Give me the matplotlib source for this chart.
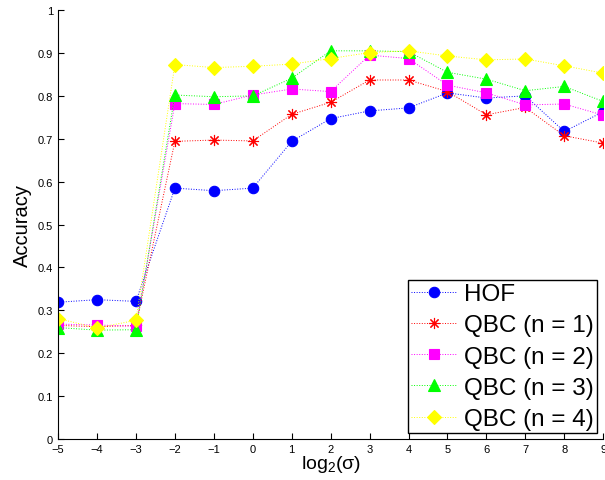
import numpy as np
import matplotlib
matplotlib.use("Agg")
import matplotlib.pyplot as plt

plt.rcParams.update({
    'font.family': ['Liberation Sans', 'DejaVu Sans'],
    'mathtext.fontset': 'custom',
    'mathtext.rm': 'Liberation Sans',
    'mathtext.it': 'Liberation Sans',
    'xtick.direction': 'in',
    'ytick.direction': 'in',
})

log2_sigma = [-5, -4, -3, -2, -1, 0, 1, 2, 3, 4, 5, 6, 7, 8, 9]

hof = [0.319, 0.325, 0.321, 0.585, 0.579, 0.585, 0.694, 0.747, 0.765, 0.772,
       0.807, 0.795, 0.800, 0.717, 0.763]
qbc1 = [0.265, 0.262, 0.265, 0.694, 0.697, 0.695, 0.757, 0.785, 0.837, 0.837,
        0.810, 0.756, 0.773, 0.707, 0.690]
qbc2 = [0.268, 0.266, 0.263, 0.782, 0.780, 0.802, 0.816, 0.810, 0.895, 0.887,
        0.825, 0.807, 0.779, 0.781, 0.755]
qbc3 = [0.260, 0.254, 0.255, 0.802, 0.798, 0.800, 0.841, 0.905, 0.905, 0.903,
        0.855, 0.839, 0.812, 0.822, 0.787]
qbc4 = [0.281, 0.259, 0.277, 0.873, 0.866, 0.869, 0.874, 0.887, 0.901, 0.905,
        0.893, 0.884, 0.886, 0.870, 0.853]

series = [
    ("HOF", hof, '#0000FF', 'o', 7.5),
    ("QBC (n = 1)", qbc1, '#FF0000', (8, 2, 0), 8),
    ("QBC (n = 2)", qbc2, '#FF00FF', 's', 7),
    ("QBC (n = 3)", qbc3, '#00FF00', '^', 8),
    ("QBC (n = 4)", qbc4, '#FFFF00', 'D', 7),
]

fig = plt.figure(figsize=(6.05, 4.81), dpi=100)
ax = fig.add_axes([0.096, 0.085, 0.901, 0.892])

for label, vals, color, marker, ms in series:
    ax.plot(log2_sigma, vals, linestyle=':', linewidth=0.7, color=color,
            marker=marker, markersize=ms, markerfacecolor=color,
            markeredgecolor=color, markeredgewidth=0.8, label=label)

ax.set_xlim(-5, 9)
ax.set_ylim(0, 1)
ax.set_xticks(range(-5, 10))
ax.set_xticklabels([str(v).replace('-', '\u2212') for v in range(-5, 10)])
ax.set_yticks(np.arange(0, 1.01, 0.1))
ax.set_yticklabels(['0'] + ['%.1f' % v for v in np.arange(0.1, 0.95, 0.1)] + ['1'])
ax.tick_params(labelsize=8, length=4, width=0.8)
ax.spines['top'].set_visible(False)
ax.spines['right'].set_visible(False)

ax.set_xlabel('log$_2$(\u03c3)', fontsize=14, labelpad=-1)
ax.set_ylabel('Accuracy', fontsize=14.5, labelpad=4)

leg = ax.legend(loc='lower right', fontsize=17.5, frameon=True, fancybox=False,
                edgecolor='black', framealpha=1, borderpad=0.12,
                handlelength=1.9, handletextpad=0.3, labelspacing=0.38,
                borderaxespad=0.25)
leg.get_frame().set_linewidth(1.0)

fig.savefig('out.png', dpi=100)
